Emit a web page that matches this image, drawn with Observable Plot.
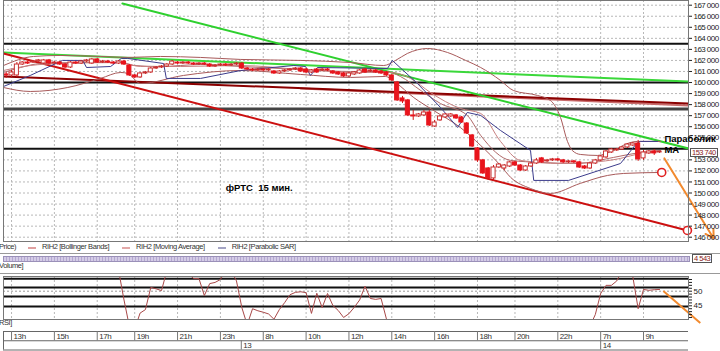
<!DOCTYPE html>
<html><head><meta charset="utf-8">
<script src="https://cdn.jsdelivr.net/npm/d3@7"></script>
<script src="https://cdn.jsdelivr.net/npm/@observablehq/plot@0.6"></script>
<style>
html,body{margin:0;padding:0;background:#fff}
#wrap{position:relative;width:720px;height:351px;overflow:hidden;background:#fff;font-family:"Liberation Sans",Arial,sans-serif;color:#333}
#wrap>svg{position:absolute;left:0}
.lbl{position:absolute;font-size:7.5px;line-height:10px;letter-spacing:-0.4px;white-space:nowrap;color:#333}
.sw{position:absolute;height:2px}
.hr{position:absolute;left:0;width:720px;height:1px;background:#999}
.box{position:absolute;border:1px solid #555;font-size:7.5px;line-height:7px;letter-spacing:-0.5px;padding:0 1px;color:#8b1a1a;background:#fff;white-space:nowrap}
</style></head>
<body><div id="wrap"></div>
<script>
// ---------- data ----------
const firstBar = -1;
const openP = [160730,160640,160640,161630,161810,161810,161900,161720,162000,161720,161810,161630,161360,161810,161720,161900,161720,162090,161810,161900,161810,161720,161900,161540,160640,160460,160820,160910,161270,161360,161450,161630,161810,161720,161810,161720,161630,161720,161630,161450,161540,161630,161540,161630,161720,161270,161180,161090,161180,161090,161000,160820,161000,161090,161180,161270,161180,160910,161180,161090,161180,161000,160910,160820,160550,160730,160820,161180,161000,161090,161000,160910,160640,160000,158560,158380,157020,156930,157020,157290,156020,156570,156840,156930,157020,156840,156290,155210,154030,152950,152220,151320,152310,152220,152400,152770,152490,152040,152400,152670,153130,152860,152950,153040,152950,152770,152860,152770,152400,152220,152670,152950,153220,153670,153850,153940,154120,154300,154480,153130,153580,153760,153670];
const closeP = [160640,160910,161630,161810,161720,161900,162000,162000,161720,161810,161630,161360,161810,161720,161900,162000,162090,161810,161900,161810,161720,161900,161630,160640,160460,160820,160910,161270,161360,161450,161630,161900,161720,161810,161720,161630,161720,161630,161450,161540,161630,161540,161630,161720,161270,161180,161090,161180,161090,161180,160820,161000,161090,161180,161270,161000,160910,161090,160910,161180,161090,160820,160730,160550,160820,160910,161090,160910,161090,160910,160820,160640,160190,158380,158290,157020,156930,157110,157290,156110,156380,156930,157110,157110,156750,156380,155390,154210,152950,151770,151320,152310,152580,152490,152770,152490,152040,152400,152670,152950,152770,152950,153040,152950,152770,152860,152770,152310,152220,152670,152950,153310,153760,153940,153940,154120,154390,154480,153040,153670,153760,153580,153740];
const highP = [160910,161090,161810,161900,161900,162000,162090,162090,162090,161900,161900,161720,161900,161900,162000,162090,162180,162180,162000,162000,161900,162000,162000,161630,160730,160910,161000,161360,161450,161540,161720,162000,161900,161900,161900,161810,161810,161810,161720,161630,161720,161720,161720,161810,161810,161360,161270,161270,161270,161270,161090,161090,161180,161270,161360,161360,161270,161180,161270,161270,161270,161090,161000,160910,160910,161000,161180,161270,161180,161180,161090,161000,160730,160100,158740,158470,157470,157200,157470,157470,156570,157020,157200,157200,157110,156930,156380,155300,154120,153040,152310,152490,152670,152580,152860,152860,152580,152490,152770,153130,153220,153040,153130,153130,153040,152950,152950,152860,152490,152770,153040,153400,153850,154030,154030,154210,154480,154580,154760,153850,153850,153940,153760];
const lowP = [160370,160460,160460,161540,161630,161720,161810,161630,161630,161630,161540,161270,161270,161630,161630,161810,161630,161720,161720,161720,161630,161630,161540,160550,160370,160370,160730,160820,161180,161270,161360,161540,161630,161630,161630,161540,161540,161540,161360,161360,161450,161450,161450,161540,161180,161090,161000,161000,161000,161000,160730,160730,160910,161000,161090,160910,160820,160820,160820,161000,161000,160730,160640,160460,160460,160640,160730,160820,160910,160820,160730,160550,160100,158290,158100,156930,156570,156840,156930,156020,155930,156480,156750,156840,156660,156290,155300,154120,152770,151680,151140,151050,152220,152040,152310,152400,151950,151950,152310,152580,152670,152770,152860,152860,152670,152670,152670,152220,152130,152130,152580,152860,153130,153580,153760,153850,154030,154210,152860,152950,153490,153400,153580];

const bbUpper = [[-1.5,161540],[4.1,162360],[9.1,162450],[16.6,162360],[21.7,162270],[27.8,162360],[35.3,162270],[42.8,162090],[54,162000],[63.3,161810],[69.5,161540],[71.7,162000],[73.9,162630],[77.7,163080],[81.4,162720],[84.8,162000],[87.6,161360],[91.3,160190],[93.7,159280],[98.2,158830],[100.6,158380],[102.5,156840],[103.8,154670],[104.7,153850],[106.2,153490],[109.4,153400],[112.4,153850],[115,154480],[116.9,154670],[121.2,154670]];
const bbMid = [[-1.5,160910],[1.7,161360],[5.4,161720],[12.9,161810],[20.4,161810],[22.8,161540],[27.8,161450],[35.3,161630],[42.8,161450],[54,161180],[63.3,161000],[69.8,161000],[72.6,160550],[76.4,159280],[80.1,158100],[85.1,157020],[87.6,155210],[93.2,152950],[98.8,152770],[105.6,152670],[112.4,153220],[117.4,153670],[121.2,153850]];
const maLine = [[-1.5,161090],[3.5,161540],[9.1,161720],[20.4,161810],[24.1,161450],[31.6,161450],[42.8,161540],[54,161180],[65.2,160910],[70.8,160910],[74.5,160370],[78.2,159100],[83.8,157650],[87.6,157200],[91.3,154670],[95,152950],[102.5,152670],[108.1,152770],[113.7,153130],[117.4,153580],[121.2,153760]];
const bbLower = [[-1.5,159550],[3.5,159190],[10.5,159550],[16.6,160370],[20.4,160910],[21.7,160820],[24.1,159910],[32.1,160640],[42.8,161090],[54,160730],[63.3,160460],[69.8,160550],[71.7,160000],[75.1,158640],[78.8,157470],[83.8,155930],[87.6,154300],[91.3,152490],[93.2,151410],[96.9,150410],[100.6,149960],[106.2,150870],[111.3,151590],[114.3,151770],[121.4,151860]];
const sar = [[-1.5,159640],[3.5,160640],[9.5,162000],[13.3,162000],[14,161360],[18.5,161450],[20.5,162180],[21.7,162180],[28.4,161720],[28.9,160370],[35.3,160370],[42.8,161090],[52.7,161540],[54.9,161450],[55.8,160640],[57.1,161360],[70.2,161270],[71.1,162000],[75.8,159910],[80.1,157740],[83.3,155930],[85.1,157290],[87.6,157020],[91.3,155660],[96.9,153850],[97.5,151140],[104,151140],[113.7,152670],[116.7,154480],[117.4,154670],[120.6,154670]];

const greenSteep = [[20.7,167150],[126.4,154030]];
const greenFlat = [[-1.5,162720],[126.4,160090]];
const redSteep = [[-1.5,162630],[126.2,146610]];
const redFlat = [[-1.5,160550],[126.4,158100]];
const redFlat2 = [[54,159460],[126.4,157920]];
const levelsThin = [163500,160000,154000];
const levelsThick = [157600];
const targets = [[121.4,151860],[126.2,146610]];
const orangePrice = [{x1:121.9,y1:153130,x2:131.1,y2:145890}];
const lastPrice = 153740;

const priceTicks = [146000,147000,148000,149000,150000,151000,152000,153000,155000,156000,157000,158000,159000,160000,161000,162000,163000,164000,165000,166000,167000];
const priceGrid = [146000,147000,148000,149000,150000,151000,152000,153000,155000,156000,157000,158000,159000,160000,161000,162000,163000,164000,165000,166000,167000];

const rsiIdx = [19,20,21,22,23,24,25,26,27,28,29,30,33,34,35,36,37,38,39,40,41,42,43,44,45,46,47,48,49,50,51,52,53,54,55,56,57,58,59,60,61,62,63,64,65,66,67,68,69,70,71,108,109,110,111,112,113,114,115,116,117,118,119,120,121];
const rsiVal = [60,57,47,38,37,42.5,43.7,51.3,50.8,50.2,57,60,56,54.3,54.3,48.5,52.6,53,54,57,57,53.5,44.4,38.5,44,43.3,42.8,42.2,40.4,43.7,46.1,48.8,49.6,49.8,49.5,42.4,49.3,44.4,49.2,45.1,43.4,41,42.3,44.5,47,51.7,47.5,47.2,47.5,40.5,36,38,42,49.2,52,52,53.5,57,57,55,44,50.6,50.3,50.5,50.6];
const rsiLevels = [54.3,51.3,48.2,44.8];
const rsiTicks = [41,42,43,44,45,46,47,48,49,50,51,52,53,54];
const rsiLabeled = [45,50];
const orangeRsi = [{x1:121.7,y1:50.1,x2:128.6,y2:39.1}];

const timeTicks = [{i:0,label:"13h"},{i:8,label:"15h"},{i:16,label:"17h"},{i:23,label:"19h"},{i:31,label:"21h"},{i:39,label:"23h"},{i:47,label:"8h"},{i:55,label:"10h"},{i:63,label:"12h"},{i:71,label:"14h"},{i:79,label:"16h"},{i:87,label:"18h"},{i:94,label:"20h"},{i:102,label:"22h"},{i:110,label:"7h"},{i:118,label:"9h"}];
const dateMarks = [{i:42.9,label:"13"},{i:110,label:"14"}];

const notes = [
  {x:40,y:150500,text:"фРТС\u00a0 15 мин."},
  {x:121.9,y:154890,text:"Параболик"},
  {x:121.9,y:153900,text:"MA"}
];
const legendItems = [
  {label:"RIH2 [Bollinger Bands]", color:"#e0a0a0"},
  {label:"RIH2 [Moving Average]", color:"#e3a8a8"},
  {label:"RIH2 [Parabolic SAR]", color:"#a4a4c4"}
];

// ---------- build ----------
const wrap = document.getElementById("wrap");
const X_DOMAIN = [-1.5,126.4];
const UIFONT = '"Liberation Sans",Arial,sans-serif';
const fmt = d => d3.format(",")(d).replace(/,/g," ");
const candles = openP.map((o,k)=>({i:firstBar+k,o,c:closeP[k],h:highP[k],l:lowP[k]}));
const px = d=>d[0], py = d=>d[1];
const RED="#e8141c";
const tighten = (svg, sel, ls) => svg.querySelectorAll(sel).forEach(t=>t.style.letterSpacing=ls);

const pricePlot = Plot.plot({
  width:720, height:241, marginLeft:3, marginRight:32, marginTop:0, marginBottom:0,
  x:{domain:X_DOMAIN, axis:null},
  y:{domain:[145610,167425], axis:null},
  style:{background:"transparent", fontFamily:UIFONT, overflow:"visible"},
  marks:[
    Plot.ruleY(priceGrid,{stroke:"#b8b8b8",strokeDasharray:"2,2"}),
    Plot.ruleX(timeTicks,{x:"i",stroke:"#b8b8b8",strokeDasharray:"2,2"}),
    Plot.ruleY(levelsThin,{stroke:"#111",strokeWidth:2}),
    Plot.ruleY(levelsThick,{stroke:"#444",strokeWidth:3}),
    Plot.line(redFlat2,{x:px,y:py,stroke:"#c86a6a",strokeWidth:2,clip:true}),
    Plot.line(redFlat,{x:px,y:py,stroke:"#8b0000",strokeWidth:2,clip:true}),
    Plot.line(greenFlat,{x:px,y:py,stroke:"#3ad83a",strokeWidth:2,clip:true}),
    Plot.line(greenSteep,{x:px,y:py,stroke:"#2ed02e",strokeWidth:2,clip:true}),
    Plot.line(redSteep,{x:px,y:py,stroke:"#cc1010",strokeWidth:2,clip:true}),
    Plot.line(bbUpper,{x:px,y:py,stroke:"#a85a5a",strokeWidth:1,curve:"monotone-x",clip:true}),
    Plot.line(bbLower,{x:px,y:py,stroke:"#a85a5a",strokeWidth:1,curve:"monotone-x",clip:true}),
    Plot.line(bbMid,{x:px,y:py,stroke:"#b06868",strokeWidth:1,curve:"monotone-x",clip:true}),
    Plot.line(maLine,{x:px,y:py,stroke:"#c88080",strokeWidth:1,curve:"monotone-x",clip:true}),
    Plot.line(sar,{x:px,y:py,stroke:"#3c3c8c",strokeWidth:1,clip:true}),
    Plot.ruleX(candles,{x:"i",y1:"l",y2:"h",stroke:"#d01818",strokeWidth:1}),
    Plot.rect(candles,{x1:d=>d.i-0.38,x2:d=>d.i+0.38,y1:"o",y2:"c",
      fill:d=>d.c<d.o?RED:"#fff",stroke:d=>d.c<d.o?RED:"#c83030",strokeWidth:1}),
    Plot.dot(targets,{x:px,y:py,r:4,stroke:"#e02020",strokeWidth:1.6,fill:"#fff"}),
    Plot.arrow(orangePrice,{x1:"x1",y1:"y1",x2:"x2",y2:"y2",stroke:"#f28a2e",strokeWidth:2,headLength:7}),
    Plot.frame({stroke:"#777"}),
    Plot.axisY(priceTicks,{anchor:"right",tickSize:3,tickPadding:2,tickFormat:fmt,fontSize:8,color:"#222"}),
    Plot.text(notes,{x:"x",y:"y",text:"text",textAnchor:"start",fontSize:9.5,fontWeight:"bold",fill:"#000",fontFamily:'"Liberation Sans",Arial,sans-serif'})
  ]
});
tighten(pricePlot,'g[aria-label="y-axis tick label"] text',"-0.55px");
pricePlot.style.top="0px";
wrap.appendChild(pricePlot);

// last price box
const yLP = pricePlot.scale("y").apply(lastPrice);
const lp = document.createElement("div");
lp.className="box"; lp.textContent=fmt(lastPrice);
lp.style.left="690px"; lp.style.top=(yLP-3)+"px";
wrap.appendChild(lp);

// legend row
const addLbl=(txt,left,top)=>{const d=document.createElement("div");d.className="lbl";d.textContent=txt;d.style.left=left+"px";d.style.top=top+"px";wrap.appendChild(d);return d;};
addLbl("Price)",-1,242);
let lx=28;
legendItems.forEach(it=>{
  const s=document.createElement("div");s.className="sw";s.style.left=lx+"px";s.style.top="247px";s.style.width="8px";s.style.background=it.color;wrap.appendChild(s);
  const d=addLbl(it.label,lx+14,242);
  lx = lx+14+d.getBoundingClientRect().width+13;
});
const hr1=document.createElement("div");hr1.className="hr";hr1.style.top="253px";wrap.appendChild(hr1);
// volume strip
const strip=document.createElement("div");
strip.style.cssText="position:absolute;left:3px;top:256px;width:685px;height:4px;border:1px solid #9a90b8;background:repeating-linear-gradient(90deg,#d4cce6 0 2px,#b4a8d0 2px 3px)";
wrap.appendChild(strip);
const vb=document.createElement("div");vb.className="box";vb.textContent="4 543";vb.style.left="692px";vb.style.top="254px";wrap.appendChild(vb);
addLbl("Volume]",-1,261);
const hr2=document.createElement("div");hr2.className="hr";hr2.style.top="273px";wrap.appendChild(hr2);

// RSI panel
const rsi = rsiIdx.map((i,k)=>({i,v:rsiVal[k]}));
const rsiPlot = Plot.plot({
  width:720, height:46, marginLeft:3, marginRight:32, marginTop:2, marginBottom:1,
  x:{domain:X_DOMAIN, axis:null},
  y:{domain:[40.31,55.03], axis:null},
  style:{background:"transparent", fontFamily:UIFONT, overflow:"visible"},
  marks:[
    Plot.ruleX(timeTicks,{x:"i",stroke:"#b8b8b8",strokeDasharray:"2,2"}),
    Plot.ruleY([50],{stroke:"#999",strokeDasharray:"2,2"}),
    Plot.ruleY(rsiLevels,{stroke:"#111",strokeWidth:2}),
    Plot.line(rsi,{x:"i",y:"v",stroke:"#a84848",strokeWidth:1,clip:true}),
    Plot.link(orangeRsi,{x1:"x1",y1:"y1",x2:"x2",y2:"y2",stroke:"#f28a2e",strokeWidth:2}),
    Plot.frame({stroke:"#777"}),
    Plot.axisY(rsiTicks,{anchor:"right",tickSize:3,tickPadding:2,fontSize:8,color:"#222",tickFormat:d=>rsiLabeled.includes(d)?String(d):""})
  ]
});
rsiPlot.style.top="274px";
wrap.appendChild(rsiPlot);
addLbl("RSI]",-1,318);

// time axis
const timePlot = Plot.plot({
  width:720, height:21, marginLeft:3, marginRight:32, marginTop:0, marginBottom:0,
  x:{domain:X_DOMAIN, axis:null},
  y:{domain:[0,2], range:[1,19.5], axis:null},
  style:{background:"transparent", fontFamily:UIFONT, overflow:"visible"},
  marks:[
    Plot.ruleY([0,1,2],{stroke:"#666"}),
    Plot.ruleX([X_DOMAIN[0]],{y1:0,y2:2,stroke:"#666"}),
    Plot.ruleX(timeTicks,{x:"i",y1:0,y2:1,stroke:"#777"}),
    Plot.text(timeTicks,{x:"i",y:0.5,text:"label",textAnchor:"start",dx:2,fontSize:8,fill:"#333"}),
    Plot.ruleX(dateMarks,{x:"i",y1:1,y2:2,stroke:"#777"}),
    Plot.text(dateMarks,{x:"i",y:1.5,text:"label",textAnchor:"start",dx:2,fontSize:8,fill:"#333"})
  ]
});
tighten(timePlot,"text","-0.4px");
timePlot.style.top="330px";
wrap.appendChild(timePlot);
</script></body></html>
